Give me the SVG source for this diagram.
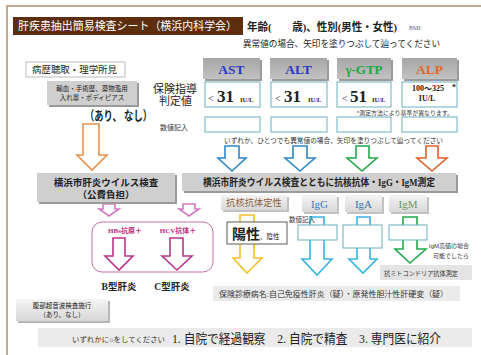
<svg xmlns="http://www.w3.org/2000/svg" width="481" height="355" viewBox="0 0 481 355">
<style>
.t{font-family:"Liberation Serif","Noto Sans CJK JP",serif;fill:#222}
.s{font-family:"Liberation Sans","Noto Sans CJK JP",sans-serif;fill:#333}
.b{font-weight:bold}
.val{fill:#fff;stroke:#6aaebd;stroke-width:1}
.gb{fill:#cfcfcf}
.sh{fill:#9a9a9a}
.lg{fill:#ebebeb}
.ar{fill:none;stroke-width:1.6;stroke-linejoin:miter}
</style>
<defs>
<linearGradient id="gg" x1="0" y1="0" x2="0" y2="1">
<stop offset="0" stop-color="#a6a6a6"/><stop offset="1" stop-color="#c2c2c2"/>
</linearGradient>
<linearGradient id="lg2" x1="0" y1="0" x2="0" y2="1">
<stop offset="0" stop-color="#f4f4f4"/><stop offset="1" stop-color="#d8d8d8"/>
</linearGradient>
</defs>
<rect width="481" height="355" fill="#fff"/>
<path d="M7,360 V6 H481" fill="none" stroke="#b08c6c" stroke-width="1.5"/>

<g id="title">
<rect x="13" y="17" width="230" height="18" fill="#5c2e0e"/>
<text class="t" x="18" y="30" font-size="11" style="fill:#fff" textLength="219" lengthAdjust="spacingAndGlyphs">肝疾患抽出簡易検査シート（横浜内科学会）</text>
<text class="t b" x="247" y="31" font-size="11" textLength="150" lengthAdjust="spacingAndGlyphs">年齢(　　歳)、性別(男性・女性)</text>
<text class="t" x="409" y="30" font-size="6" style="fill:#666">BMI:</text>
<text class="t" x="243" y="47" font-size="9" textLength="197" lengthAdjust="spacingAndGlyphs">異常値の場合、矢印を塗りつぶして辿ってください</text>
</g>

<g id="history">
<rect x="26" y="62" width="99" height="15" fill="#fff" stroke="#aaa" stroke-width="0.8"/>
<text class="t" x="32" y="73" font-size="9.5" textLength="85" lengthAdjust="spacingAndGlyphs">病歴聴取・理学所見</text>
</g>

<g id="risk">
<rect x="49" y="83" width="90" height="24" class="sh"/>
<rect x="47" y="81" width="90" height="24" class="gb"/>
<text class="t" x="92" y="91" font-size="6.5" text-anchor="middle">輸血・手術歴、薬物濫用</text>
<text class="t" x="92" y="100" font-size="6.5" text-anchor="middle">入れ墨・ボディピアス</text>
<text class="t b" x="85" y="120" font-size="13" textLength="67" lengthAdjust="spacingAndGlyphs">（あり、 なし）</text>
</g>

<g id="labels">
<text class="t" x="153" y="93" font-size="11">保険指導</text>
<text class="t" x="159" y="105" font-size="11">判定値</text>
<text class="s" x="160" y="130" font-size="7">数値記入</text>
<text class="s" x="357" y="115" font-size="5.6" textLength="96" lengthAdjust="spacingAndGlyphs">*測定方法により基準が異なります。</text>
<text class="s" x="224" y="143" font-size="7" textLength="219" lengthAdjust="spacingAndGlyphs">いずれか、ひとつでも異常値の場合、矢印を塗りつぶして辿ってください</text>
</g>

<g id="ast">
<rect x="205" y="60" width="57" height="21" class="sh"/>
<rect x="203" y="58" width="57" height="21" fill="url(#gg)"/>
<text class="t b" x="231.5" y="74" font-size="13.5" text-anchor="middle" style="fill:#2b35c8">AST</text>
<rect x="205" y="82" width="55" height="25" class="val"/>
<text class="t" x="208" y="102" font-size="10">&lt;</text>
<text class="t b" x="217" y="102" font-size="17">31</text>
<text class="t b" x="240" y="102" font-size="6.5">IU/L</text>
<rect x="205" y="117" width="55" height="15" class="val"/>
</g>

<g id="alt">
<rect x="272" y="60" width="57" height="21" class="sh"/>
<rect x="270" y="58" width="57" height="21" fill="url(#gg)"/>
<text class="t b" x="298.5" y="74" font-size="13.5" text-anchor="middle" style="fill:#2b35c8">ALT</text>
<rect x="271" y="82" width="56" height="25" class="val"/>
<text class="t" x="275" y="102" font-size="10">&lt;</text>
<text class="t b" x="284" y="102" font-size="17">31</text>
<text class="t b" x="308" y="102" font-size="6.5">IU/L</text>
<rect x="271" y="117" width="56" height="15" class="val"/>
</g>

<g id="ggtp">
<rect x="339" y="60" width="54" height="21" class="sh"/>
<rect x="337" y="58" width="54" height="21" fill="url(#gg)"/>
<text class="t b" x="364" y="74" font-size="13" text-anchor="middle" style="fill:#1ea845">γ-GTP</text>
<rect x="337" y="82" width="54" height="25" class="val"/>
<text class="t" x="342" y="102" font-size="10">&lt;</text>
<text class="t b" x="350" y="102" font-size="17">51</text>
<text class="t b" x="372" y="102" font-size="6.5">IU/L</text>
<rect x="337" y="117" width="54" height="15" class="val"/>
</g>

<g id="alp">
<rect x="404" y="60" width="55" height="21" class="sh"/>
<rect x="402" y="58" width="55" height="21" fill="url(#gg)"/>
<text class="t b" x="429.5" y="74" font-size="13.5" text-anchor="middle" style="fill:#e2662a">ALP</text>
<rect x="402" y="82" width="55" height="25" class="val"/>
<text class="t b" x="428" y="91" font-size="8" text-anchor="middle">100～325</text>
<text class="t b" x="427" y="101" font-size="8" text-anchor="middle">IU/L</text>
<text class="t b" x="452" y="90" font-size="8">*</text>
<rect x="402" y="117" width="55" height="15" class="val"/>
</g>

<g id="connectors">
<path class="ar" stroke="#e8924a" d="M83,124 H99 V155 H107 L92,170 L77,155 H83 Z"/>
<path class="ar" stroke="#2f86c6" d="M225,146 H239 V158 H246 L232,171 L218,158 H225 Z"/>
<path class="ar" stroke="#2f86c6" d="M293,146 H307 V158 H315 L300,171 L285,158 H293 Z"/>
<path class="ar" stroke="#22a84a" d="M356,146 H369 V158 H377 L362,171 L347,158 H356 Z"/>
<path class="ar" stroke="#e06228" d="M426,146 H438 V158 H447 L432,171 L417,158 H426 Z"/>
<path class="ar" stroke="#d67ac0" stroke-width="1.1" d="M103,204 H115 V209 H119 L109,216 L99,209 H103 Z"/>
<path class="ar" stroke="#d67ac0" stroke-width="1.1" d="M183,204 H195 V209 H199 L189,216 L179,209 H183 Z"/>
<path class="ar" stroke="#b8358a" stroke-width="1.3" d="M113,238 H125 V256 H133 L119,270 L105,256 H113 Z"/>
<path class="ar" stroke="#b8358a" stroke-width="1.3" d="M170,238 H183 V256 H192 L177,270 L162,256 H170 Z"/>
<path class="ar" stroke="#f2c12e" d="M240,215 H254 V258 H262 L247,273 L233,258 H240 Z"/>
<path class="ar" stroke="#36b4e4" d="M310,217 H324 V259 H332 L317,275 L302,259 H310 Z"/>
<path class="ar" stroke="#36b4e4" d="M357,217 H370 V259 H377 L363,273 L349,259 H357 Z"/>
<path class="ar" stroke="#22a84a" d="M403,217 H417 V249 H426 L410,263 L395,249 H403 Z"/>
</g>

<g id="city">
<rect x="39" y="175" width="138" height="29" class="sh"/>
<rect x="37" y="173" width="138" height="29" class="gb"/>
<text class="t b" x="106" y="186" font-size="9.5" text-anchor="middle">横浜市肝炎ウイルス検査</text>
<text class="t b" x="106" y="198" font-size="9.5" text-anchor="middle">（公費負担）</text>
</g>

<g id="cityplus">
<rect x="184" y="175" width="274" height="18" class="sh"/>
<rect x="182" y="173" width="274" height="18" class="gb"/>
<text class="t b" x="203" y="186" font-size="10" textLength="232" lengthAdjust="spacingAndGlyphs">横浜市肝炎ウイルス検査とともに抗核抗体・IgG・IgM測定</text>
</g>

<g id="hepatitis">
<rect x="92" y="222" width="121" height="50" rx="10" fill="none" stroke="#c470a8" stroke-width="1"/>
<text class="t b" x="125" y="233" font-size="7" text-anchor="middle" style="fill:#c0287a">HBs抗原＋</text>
<text class="t b" x="178" y="233" font-size="7" text-anchor="middle" style="fill:#c0287a">HCV抗体＋</text>
<text class="t b" x="119" y="290" font-size="9.5" text-anchor="middle">B型肝炎</text>
<text class="t b" x="172" y="290" font-size="9.5" text-anchor="middle">C型肝炎</text>
</g>

<g id="ana">
<rect x="223" y="197" width="66" height="15" class="sh" opacity="0.6"/>
<rect x="221" y="195" width="66" height="15" fill="url(#lg2)"/>
<text class="t" x="254" y="206" font-size="9.3" text-anchor="middle" style="fill:#8a6040">抗核抗体定性</text>
<rect x="227" y="222" width="60" height="22" fill="#fff" stroke="#333" stroke-width="0.8"/>
<text class="t b" x="232" y="239" font-size="14">陽性</text>
<text class="t" x="260" y="239" font-size="6.5">、陰性</text>
</g>

<g id="igg">
<rect x="304" y="197" width="35" height="17" class="sh" opacity="0.6"/>
<rect x="302" y="195" width="35" height="17" fill="url(#lg2)"/>
<text class="t" x="319.5" y="208" font-size="11" text-anchor="middle" style="fill:#2f7fc0">IgG</text>
<rect x="298" y="225" width="39" height="15" class="val"/>
<text class="s" x="289" y="222" font-size="6.5">数値記入</text>
</g>

<g id="iga">
<rect x="347" y="197" width="37" height="17" class="sh" opacity="0.6"/>
<rect x="345" y="195" width="37" height="17" fill="url(#lg2)"/>
<text class="t" x="363.5" y="208" font-size="11" text-anchor="middle" style="fill:#3a6ea8">IgA</text>
<rect x="343" y="225" width="39" height="23" class="val"/>
</g>

<g id="igm">
<rect x="391" y="197" width="38" height="17" class="sh" opacity="0.6"/>
<rect x="389" y="195" width="38" height="17" fill="url(#lg2)"/>
<text class="t" x="408" y="208" font-size="11" text-anchor="middle" style="fill:#6a9a5a">IgM</text>
<rect x="389" y="225" width="38" height="15" class="val"/>
<text class="s" x="469" y="248" font-size="6" text-anchor="end">IgM高値の場合</text>
<text class="s" x="469" y="258" font-size="6" text-anchor="end">可能でしたら</text>
</g>

<g id="ama">
<rect x="380" y="265" width="92" height="15" fill="#e4e4e4"/>
<text class="s" x="384" y="276" font-size="6.3" textLength="74" lengthAdjust="spacingAndGlyphs">抗ミトコンドリア抗体測定</text>
</g>

<g id="diagnosis">
<rect x="213" y="286" width="247" height="15" class="lg"/>
<text class="s" x="219" y="297" font-size="7.8" textLength="229" lengthAdjust="spacingAndGlyphs">保険診療病名:自己免疫性肝炎（疑）・原発性胆汁性肝硬変（疑）</text>
</g>

<g id="echo">
<rect x="18" y="301" width="92" height="22" class="sh" opacity="0.7"/>
<rect x="16" y="299" width="92" height="22" fill="url(#lg2)"/>
<text class="t" x="62" y="308" font-size="6.5" text-anchor="middle">腹部超音波検査施行</text>
<text class="t" x="62" y="317" font-size="6.5" text-anchor="middle">（あり、なし）</text>
</g>

<g id="result">
<rect x="38" y="328" width="434" height="19" class="lg"/>
<text class="s" x="72" y="342" font-size="6.8" textLength="93" lengthAdjust="spacingAndGlyphs">いずれかに○をしてください</text>
<text class="t" x="172" y="343" font-size="13" xml:space="preserve" style="white-space:pre" textLength="269" lengthAdjust="spacingAndGlyphs">1. 自院で経過観察　2. 自院で精査　3. 専門医に紹介</text>
</g>
</svg>
